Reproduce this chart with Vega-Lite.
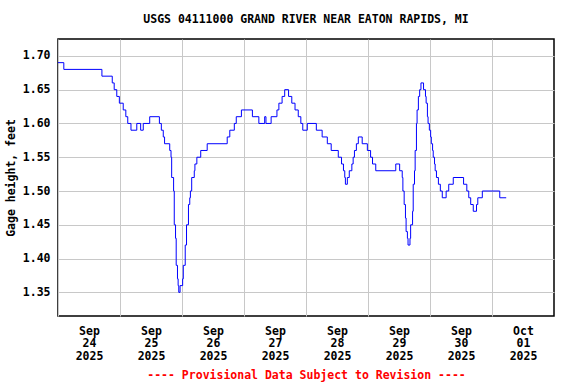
{
  "$schema": "https://vega.github.io/schema/vega-lite/v6.json",
  "autosize": {"type": "none"},
  "width": 496,
  "height": 277,
  "padding": {"left": 58, "top": 39, "right": 22, "bottom": 68},
  "background": "white",
  "title": {
    "text": "USGS 04111000 GRAND RIVER NEAR EATON RAPIDS, MI",
    "font": "DejaVu Sans Mono",
    "fontSize": 11.5,
    "fontWeight": "bold",
    "color": "black",
    "anchor": "middle",
    "frame": "group",
    "offset": 14
  },
  "config": {
    "view": {"stroke": "black", "strokeWidth": 1.5},
    "axis": {
      "labelFont": "DejaVu Sans Mono",
      "labelFontSize": 11.5,
      "labelFontWeight": "bold",
      "labelColor": "black",
      "titleFont": "DejaVu Sans Mono",
      "titleFontSize": 11.5,
      "titleFontWeight": "bold",
      "gridColor": "#c8c8c8",
      "gridWidth": 1,
      "gridOpacity": 1,
      "ticks": false,
      "domain": false
    }
  },
  "data": {
    "values": [
      {"t": "2025-09-24T00:00", "v": 1.69},
      {"t": "2025-09-24T02:15", "v": 1.68},
      {"t": "2025-09-24T17:00", "v": 1.67},
      {"t": "2025-09-24T21:00", "v": 1.66},
      {"t": "2025-09-24T21:45", "v": 1.65},
      {"t": "2025-09-24T22:45", "v": 1.64},
      {"t": "2025-09-24T23:45", "v": 1.63},
      {"t": "2025-09-25T01:15", "v": 1.62},
      {"t": "2025-09-25T02:15", "v": 1.61},
      {"t": "2025-09-25T03:00", "v": 1.60},
      {"t": "2025-09-25T04:15", "v": 1.59},
      {"t": "2025-09-25T06:30", "v": 1.60},
      {"t": "2025-09-25T08:00", "v": 1.59},
      {"t": "2025-09-25T09:00", "v": 1.60},
      {"t": "2025-09-25T11:30", "v": 1.61},
      {"t": "2025-09-25T15:15", "v": 1.60},
      {"t": "2025-09-25T16:00", "v": 1.59},
      {"t": "2025-09-25T16:45", "v": 1.58},
      {"t": "2025-09-25T17:15", "v": 1.57},
      {"t": "2025-09-25T19:15", "v": 1.56},
      {"t": "2025-09-25T19:45", "v": 1.55},
      {"t": "2025-09-25T20:00", "v": 1.52},
      {"t": "2025-09-25T20:45", "v": 1.50},
      {"t": "2025-09-25T21:00", "v": 1.45},
      {"t": "2025-09-25T21:30", "v": 1.43},
      {"t": "2025-09-25T21:45", "v": 1.39},
      {"t": "2025-09-25T22:15", "v": 1.37},
      {"t": "2025-09-25T22:30", "v": 1.36},
      {"t": "2025-09-25T22:45", "v": 1.35},
      {"t": "2025-09-25T23:15", "v": 1.36},
      {"t": "2025-09-26T00:15", "v": 1.37},
      {"t": "2025-09-26T00:30", "v": 1.39},
      {"t": "2025-09-26T01:15", "v": 1.42},
      {"t": "2025-09-26T01:45", "v": 1.45},
      {"t": "2025-09-26T02:30", "v": 1.48},
      {"t": "2025-09-26T03:00", "v": 1.49},
      {"t": "2025-09-26T03:15", "v": 1.50},
      {"t": "2025-09-26T03:45", "v": 1.52},
      {"t": "2025-09-26T04:45", "v": 1.53},
      {"t": "2025-09-26T05:00", "v": 1.54},
      {"t": "2025-09-26T05:45", "v": 1.55},
      {"t": "2025-09-26T07:15", "v": 1.56},
      {"t": "2025-09-26T09:45", "v": 1.57},
      {"t": "2025-09-26T17:30", "v": 1.58},
      {"t": "2025-09-26T18:30", "v": 1.59},
      {"t": "2025-09-26T20:15", "v": 1.60},
      {"t": "2025-09-26T21:00", "v": 1.61},
      {"t": "2025-09-26T23:00", "v": 1.62},
      {"t": "2025-09-27T03:15", "v": 1.61},
      {"t": "2025-09-27T05:45", "v": 1.60},
      {"t": "2025-09-27T08:00", "v": 1.61},
      {"t": "2025-09-27T08:30", "v": 1.60},
      {"t": "2025-09-27T10:30", "v": 1.61},
      {"t": "2025-09-27T12:45", "v": 1.62},
      {"t": "2025-09-27T13:30", "v": 1.63},
      {"t": "2025-09-27T14:45", "v": 1.64},
      {"t": "2025-09-27T15:45", "v": 1.65},
      {"t": "2025-09-27T17:15", "v": 1.64},
      {"t": "2025-09-27T18:30", "v": 1.63},
      {"t": "2025-09-27T19:45", "v": 1.62},
      {"t": "2025-09-27T21:00", "v": 1.61},
      {"t": "2025-09-27T22:00", "v": 1.60},
      {"t": "2025-09-27T22:45", "v": 1.59},
      {"t": "2025-09-28T00:30", "v": 1.60},
      {"t": "2025-09-28T04:00", "v": 1.59},
      {"t": "2025-09-28T06:15", "v": 1.58},
      {"t": "2025-09-28T08:15", "v": 1.57},
      {"t": "2025-09-28T09:45", "v": 1.56},
      {"t": "2025-09-28T12:30", "v": 1.55},
      {"t": "2025-09-28T13:45", "v": 1.54},
      {"t": "2025-09-28T14:30", "v": 1.53},
      {"t": "2025-09-28T15:00", "v": 1.52},
      {"t": "2025-09-28T15:15", "v": 1.51},
      {"t": "2025-09-28T16:00", "v": 1.52},
      {"t": "2025-09-28T16:45", "v": 1.53},
      {"t": "2025-09-28T17:45", "v": 1.54},
      {"t": "2025-09-28T18:15", "v": 1.55},
      {"t": "2025-09-28T18:45", "v": 1.56},
      {"t": "2025-09-28T19:30", "v": 1.57},
      {"t": "2025-09-28T20:15", "v": 1.58},
      {"t": "2025-09-28T21:45", "v": 1.57},
      {"t": "2025-09-28T23:45", "v": 1.56},
      {"t": "2025-09-29T01:00", "v": 1.55},
      {"t": "2025-09-29T01:45", "v": 1.54},
      {"t": "2025-09-29T03:00", "v": 1.53},
      {"t": "2025-09-29T10:45", "v": 1.54},
      {"t": "2025-09-29T12:15", "v": 1.53},
      {"t": "2025-09-29T13:15", "v": 1.52},
      {"t": "2025-09-29T13:30", "v": 1.50},
      {"t": "2025-09-29T14:00", "v": 1.48},
      {"t": "2025-09-29T14:30", "v": 1.46},
      {"t": "2025-09-29T14:45", "v": 1.44},
      {"t": "2025-09-29T15:15", "v": 1.43},
      {"t": "2025-09-29T15:30", "v": 1.42},
      {"t": "2025-09-29T16:15", "v": 1.43},
      {"t": "2025-09-29T16:30", "v": 1.45},
      {"t": "2025-09-29T17:15", "v": 1.47},
      {"t": "2025-09-29T17:30", "v": 1.51},
      {"t": "2025-09-29T18:00", "v": 1.53},
      {"t": "2025-09-29T18:15", "v": 1.56},
      {"t": "2025-09-29T18:45", "v": 1.60},
      {"t": "2025-09-29T19:00", "v": 1.62},
      {"t": "2025-09-29T19:30", "v": 1.64},
      {"t": "2025-09-29T20:00", "v": 1.65},
      {"t": "2025-09-29T20:30", "v": 1.66},
      {"t": "2025-09-29T21:30", "v": 1.65},
      {"t": "2025-09-29T22:15", "v": 1.64},
      {"t": "2025-09-29T22:30", "v": 1.63},
      {"t": "2025-09-29T23:00", "v": 1.61},
      {"t": "2025-09-29T23:15", "v": 1.60},
      {"t": "2025-09-29T23:45", "v": 1.59},
      {"t": "2025-09-30T00:15", "v": 1.58},
      {"t": "2025-09-30T00:30", "v": 1.57},
      {"t": "2025-09-30T01:00", "v": 1.56},
      {"t": "2025-09-30T01:15", "v": 1.55},
      {"t": "2025-09-30T01:45", "v": 1.54},
      {"t": "2025-09-30T02:00", "v": 1.53},
      {"t": "2025-09-30T02:30", "v": 1.52},
      {"t": "2025-09-30T03:15", "v": 1.51},
      {"t": "2025-09-30T04:00", "v": 1.50},
      {"t": "2025-09-30T04:45", "v": 1.49},
      {"t": "2025-09-30T06:15", "v": 1.50},
      {"t": "2025-09-30T07:15", "v": 1.51},
      {"t": "2025-09-30T09:00", "v": 1.52},
      {"t": "2025-09-30T13:00", "v": 1.51},
      {"t": "2025-09-30T14:15", "v": 1.50},
      {"t": "2025-09-30T15:00", "v": 1.49},
      {"t": "2025-09-30T15:45", "v": 1.48},
      {"t": "2025-09-30T16:45", "v": 1.47},
      {"t": "2025-09-30T18:00", "v": 1.48},
      {"t": "2025-09-30T18:30", "v": 1.49},
      {"t": "2025-09-30T20:15", "v": 1.50},
      {"t": "2025-10-01T03:00", "v": 1.49},
      {"t": "2025-10-01T05:30", "v": 1.49}
    ]
  },
  "mark": {"type": "line", "interpolate": "step-after", "color": "#0000ff", "strokeWidth": 1, "clip": true},
  "encoding": {
    "x": {
      "field": "t",
      "type": "temporal",
      "scale": {
        "domain": [
          {"year": 2025, "month": "sep", "date": 24},
          {"year": 2025, "month": "oct", "date": 2}
        ]
      },
      "axis": {
        "title": "---- Provisional Data Subject to Revision ----",
        "titleColor": "#ff0000",
        "titlePadding": 8,
        "values": [
          {"year": 2025, "month": "sep", "date": 24},
          {"year": 2025, "month": "sep", "date": 25},
          {"year": 2025, "month": "sep", "date": 26},
          {"year": 2025, "month": "sep", "date": 27},
          {"year": 2025, "month": "sep", "date": 28},
          {"year": 2025, "month": "sep", "date": 29},
          {"year": 2025, "month": "sep", "date": 30},
          {"year": 2025, "month": "oct", "date": 1}
        ],
        "labelExpr": "[timeFormat(datum.value, '%b'), timeFormat(datum.value, '%d'), timeFormat(datum.value, '%Y')]",
        "labelOffset": 31,
        "labelPadding": 9,
        "labelLineHeight": 12.5,
        "labelFlush": false,
        "labelOverlap": false,
        "labelAngle": 0
      }
    },
    "y": {
      "field": "v",
      "type": "quantitative",
      "scale": {"domain": [1.315, 1.725], "nice": false, "zero": false},
      "axis": {
        "title": "Gage height, feet",
        "values": [1.35, 1.4, 1.45, 1.5, 1.55, 1.6, 1.65, 1.7],
        "format": ".2f",
        "labelPadding": 8,
        "titlePadding": 6
      }
    }
  }
}
